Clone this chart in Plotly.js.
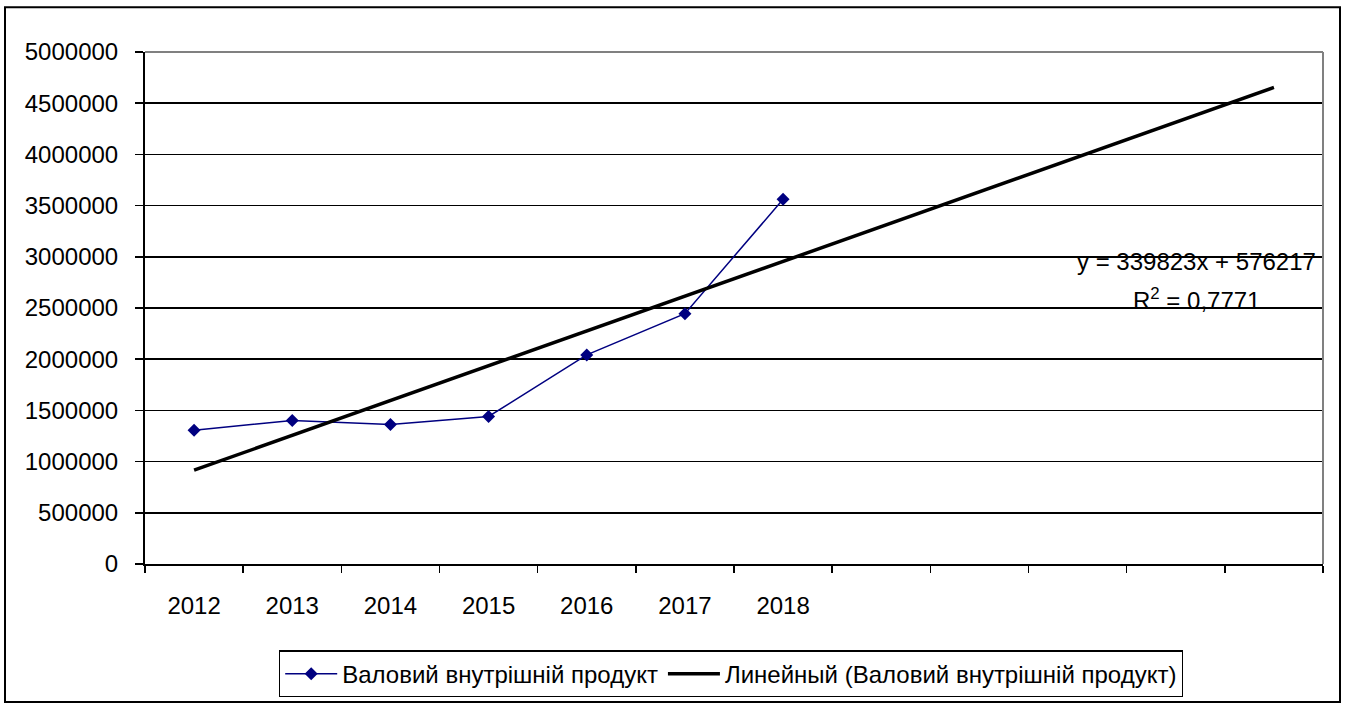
<!DOCTYPE html>
<html>
<head>
<meta charset="utf-8">
<script src="https://cdn.plot.ly/plotly-3.0.1.min.js"></script>
<style>
html,body{margin:0;padding:0;background:#fff;}
#chart{width:1347px;height:709px;}
</style>
</head>
<body>
<div id="chart"></div>
<script>
// Data
const years = ['2012','2013','2014','2015','2016','2017','2018'];
const gdp = [1305000, 1402000, 1363000, 1441000, 2042000, 2445000, 3562000];
const categoryCount = 12; // categories on the axis (7 labelled + 5 empty)
const trendSlope = 339823;
const trendIntercept = 576217;
const eqText = 'y = 339823x + 576217';
const r2Text = 'R<sup>2</sup> = 0,7771';
const seriesName = 'Валовий внутрішній продукт';
const trendName = 'Линейный (Валовий внутрішній продукт)';
const yTicks = [0,500000,1000000,1500000,2000000,2500000,3000000,3500000,4000000,4500000,5000000];

const xIdx = years.map((_, i) => i + 1);
const trendX = [1, categoryCount];
const trendY = trendX.map(x => trendSlope * x + trendIntercept);
const boundaries = [];
for (let i = 0; i <= categoryCount; i++) boundaries.push(i + 0.5);

const FONT = 'Liberation Sans, Arial, sans-serif';
const FS = 24;
const L = 145, R = 1323, T = 52, B = 568;
const W = R - L, H = B - T;
const px = x => (x - L) / W;
const py = y => (B - y) / H;

const traces = [
  {
    x: xIdx, y: gdp, type: 'scatter', mode: 'lines+markers', name: seriesName,
    line: {color: '#000080', width: 1.5},
    marker: {symbol: 'diamond', size: 10, color: '#000080'},
    xaxis: 'x', yaxis: 'y'
  },
  {
    x: trendX, y: trendY, type: 'scatter', mode: 'lines', name: trendName,
    line: {color: '#000000', width: 3.5},
    xaxis: 'x', yaxis: 'y'
  },
  {
    x: xIdx, y: gdp, type: 'scatter', mode: 'none', showlegend: false, hoverinfo: 'skip',
    xaxis: 'x2', yaxis: 'y'
  }
];

const layout = {
  width: 1347, height: 709,
  margin: {l: L, r: 1347 - R, t: T, b: 709 - B, pad: 0},
  paper_bgcolor: '#fff', plot_bgcolor: '#fff',
  font: {family: FONT, size: FS, color: '#000'},
  showlegend: true,
  xaxis: {
    range: [0.5, categoryCount + 0.5], tickmode: 'array', tickvals: boundaries,
    ticktext: boundaries.map(() => ''), ticks: 'outside', ticklen: 7, tickwidth: 1.5, tickcolor: '#000',
    showline: true, linecolor: '#000', linewidth: 2, showgrid: false, zeroline: false, fixedrange: true
  },
  xaxis2: {
    overlaying: 'x', matches: 'x', anchor: 'y', side: 'bottom',
    range: [0.5, categoryCount + 0.5], tickmode: 'array', tickvals: xIdx, ticktext: years,
    ticks: '', showline: false, showgrid: false, zeroline: false,
    ticklabelstandoff: 25, tickfont: {family: FONT, size: FS, color: '#000'}
  },
  yaxis: {
    range: [0, 5000000], tickmode: 'array', tickvals: yTicks, ticktext: yTicks.map(String),
    ticks: 'outside', ticklen: 8, tickwidth: 1.5, tickcolor: '#000',
    showline: true, linecolor: '#000', linewidth: 2,
    showgrid: true, gridcolor: '#000', gridwidth: 1.6, zeroline: false,
    ticklabelstandoff: 12, tickfont: {family: FONT, size: FS, color: '#000'}
  },
  legend: {
    orientation: 'h', x: px(731), xanchor: 'center', y: py(655), yanchor: 'top',
    bordercolor: '#000', borderwidth: 1.2, bgcolor: '#fff',
    font: {family: FONT, size: FS, color: '#000'}, itemwidth: 52, tracegroupgap: 0
  },
  shapes: [
    {type: 'line', xref: 'paper', yref: 'paper', x0: 0, x1: 1, y0: 1, y1: 1, line: {color: '#808080', width: 2}},
    {type: 'line', xref: 'paper', yref: 'paper', x0: 1, x1: 1, y0: 0, y1: 1, line: {color: '#808080', width: 2}},
    {type: 'rect', xref: 'paper', yref: 'paper', x0: px(5), x1: px(1340), y0: py(707), y1: py(7), line: {color: '#000', width: 2}, fillcolor: 'rgba(0,0,0,0)'}
  ],
  annotations: [
    {xref: 'paper', yref: 'paper', x: px(1196), y: py(263), text: eqText, showarrow: false, xanchor: 'center', yanchor: 'middle', font: {family: FONT, size: FS, color: '#000'}},
    {xref: 'paper', yref: 'paper', x: px(1196), y: py(301), text: r2Text, showarrow: false, xanchor: 'center', yanchor: 'middle', font: {family: FONT, size: FS, color: '#000'}}
  ]
};

Plotly.newPlot('chart', traces, layout, {displayModeBar: false, staticPlot: true});
</script>
</body>
</html>
